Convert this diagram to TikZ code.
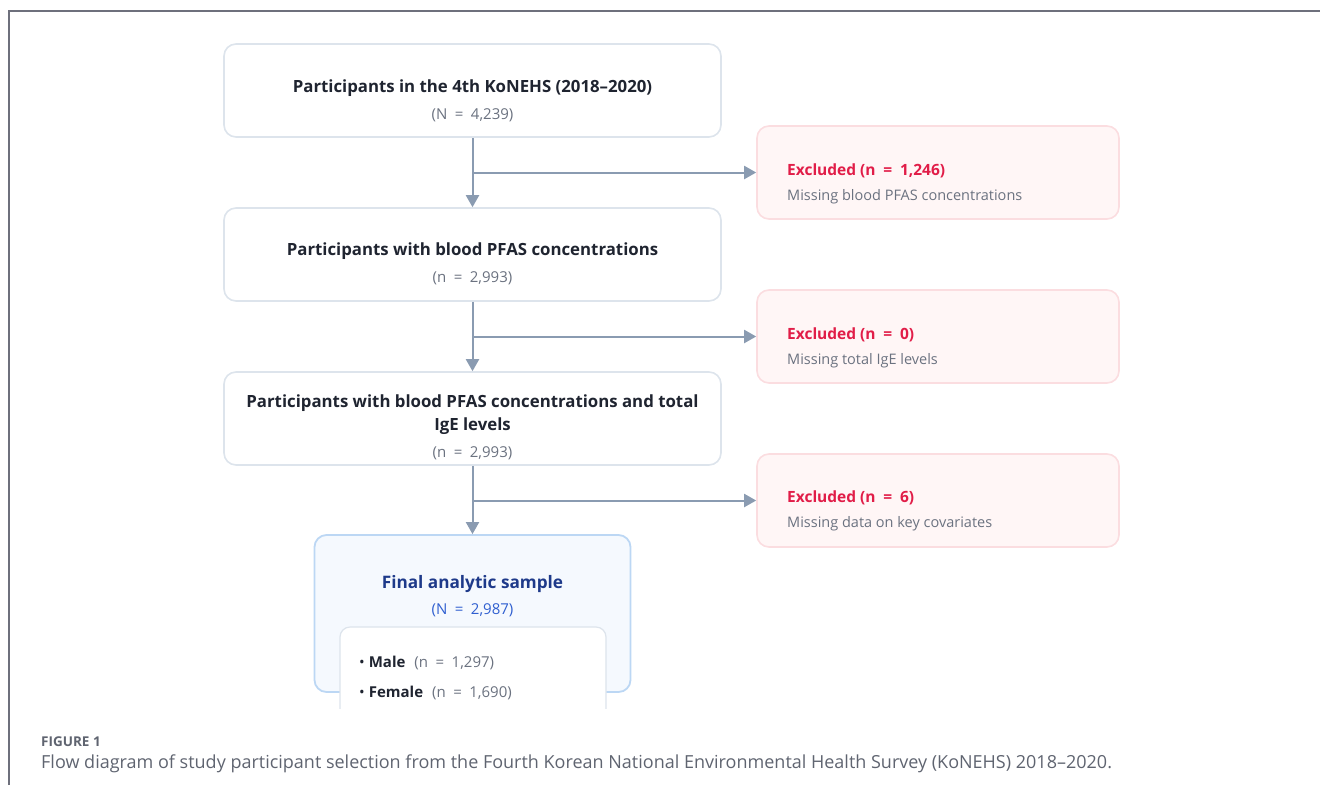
\documentclass[tikz,border=0pt]{standalone}
\usepackage{fontspec}
\setmainfont{Open Sans}
\newfontfamily\capfont{Open Sans}
\usetikzlibrary{arrows.meta}
\newcommand\eqs{\hspace{0.5em}=\hspace{0.5em}}
\definecolor{boxborder}{HTML}{DDE4EC}
\definecolor{arrowcol}{HTML}{8A9BB1}
\definecolor{darktext}{HTML}{1F2430}
\definecolor{graytext}{HTML}{6B7280}
\definecolor{exfill}{HTML}{FFF6F6}
\definecolor{exborder}{HTML}{FBDDE0}
\definecolor{exred}{HTML}{E11D48}
\definecolor{finfill}{HTML}{F5F9FE}
\definecolor{finborder}{HTML}{BCD7F4}
\definecolor{navy}{HTML}{1E3A8A}
\definecolor{bluetext}{HTML}{2F5FD0}
\definecolor{framecol}{HTML}{6E707C}
\definecolor{captext}{HTML}{5F6470}
\begin{document}
\begin{tikzpicture}[x=1pt,y=-1pt,
  mainbox/.style={draw=boxborder,line width=1.6pt,rounded corners=12pt,fill=white,minimum width=497pt,minimum height=93pt,inner sep=0pt},
  exbox/.style={draw=exborder,line width=1.6pt,rounded corners=12pt,fill=exfill,minimum width=362pt,minimum height=93pt,inner sep=0pt},
  finbox/.style={draw=finborder,line width=1.8pt,rounded corners=12pt,fill=finfill,minimum width=316pt,minimum height=157pt,inner sep=0pt},
  innerbox/.style={draw=boxborder,line width=1.2pt,rounded corners=10pt,fill=white,minimum width=266pt,minimum height=100pt,inner sep=0pt},
  titletext/.style={font=\fontsize{16.8}{23}\selectfont\bfseries,text=darktext,align=center,inner sep=0pt},
  subtext/.style={font=\fontsize{15}{18}\selectfont,text=graytext,inner sep=0pt},
  extitle/.style={font=\fontsize{15.5}{18}\selectfont\bfseries,text=exred,anchor=west,inner sep=0pt},
  exsub/.style={font=\fontsize{14.5}{18}\selectfont,text=graytext,anchor=west,inner sep=0pt},
  flow/.style={draw=arrowcol,line width=2pt,-{Triangle[width=13pt,length=12pt]}},
  listtext/.style={font=\fontsize{15}{18}\selectfont,text=darktext,anchor=west,inner sep=0pt}
]
\useasboundingbox (0,0) rectangle (1320,785);
% frame
\draw[framecol,line width=1.2pt] (9,785) -- (9,11) -- (1320,11);

% main boxes
\node[mainbox] (b1) at (472.5,90.5) {};
\node[titletext] (b1t) at (472.5,88) {Participants in the 4th KoNEHS (2018–2020)};
\node[subtext] (b1s) at (472.5,115) {(N\eqs4,239)};

\node[mainbox] (b2) at (472.5,254.5) {};
\node[titletext] (b2t) at (472.5,251) {Participants with blood PFAS concentrations};
\node[subtext] (b2s) at (472.5,278) {(n\eqs2,993)};

\node[mainbox] (b3) at (472.5,418.5) {};
\node[titletext] (b3t) at (472.5,415) {Participants with blood PFAS concentrations and total\\IgE levels};
\node[subtext] (b3s) at (472.5,453) {(n\eqs2,993)};

% exclusion boxes
\node[exbox] (e1) at (938,172.5) {};
\node[extitle] (e1t) at (787,171) {Excluded (n\eqs1,246)};
\node[exsub] (e1s) at (787,197) {Missing blood PFAS concentrations};

\node[exbox] (e2) at (938,336.5) {};
\node[extitle] (e2t) at (787,335) {Excluded (n\eqs0)};
\node[exsub] (e2s) at (787,361) {Missing total IgE levels};

\node[exbox] (e3) at (938,500.5) {};
\node[extitle] (e3t) at (787,498) {Excluded (n\eqs6)};
\node[exsub] (e3s) at (787,524) {Missing data on key covariates};

% final box
\node[finbox] (f) at (472.5,613.5) {};
\node[font=\fontsize{17.2}{20}\selectfont\bfseries,text=navy,inner sep=0pt] (ft) at (472.5,584) {Final analytic sample};
\node[font=\fontsize{15}{18}\selectfont,text=bluetext,inner sep=0pt] (fs) at (472.5,610) {(N\eqs2,987)};
\begin{scope}
\clip (0,0) rectangle (1320,708);
\node[innerbox] (in) at (473,677) {};
\end{scope}
\node[listtext] (m) at (359,663) {•\hspace{4pt}\textbf{Male}\hspace{9pt}\textcolor{graytext}{(n\eqs1,297)}};
\node[listtext] (fe) at (359,693) {•\hspace{4pt}\textbf{Female}\hspace{9pt}\textcolor{graytext}{(n\eqs1,690)}};

% connectors
\coordinate (j1) at (b1.south |- e1.west);
\coordinate (j2) at (b2.south |- e2.west);
\coordinate (j3) at (b3.south |- e3.west);
\draw[flow] (b1.south) -- (b2.north);
\draw[flow] (j1) -- (e1.west);
\draw[flow] (b2.south) -- (b3.north);
\draw[flow] (j2) -- (e2.west);
\draw[flow] (b3.south) -- (f.north);
\draw[flow] (j3) -- (e3.west);

% caption
\node[font=\capfont\fontsize{13.5}{16}\selectfont\bfseries,text=captext,anchor=west,inner sep=0pt] (cap1) at (41,742) {FIGURE 1};
\node[font=\capfont\fontsize{18}{22}\selectfont,text=captext,anchor=west,inner sep=0pt] (cap2) at (41,764) {Flow diagram of study participant selection from the Fourth Korean National Environmental Health Survey (KoNEHS) 2018–2020.};
\end{tikzpicture}
\end{document}
